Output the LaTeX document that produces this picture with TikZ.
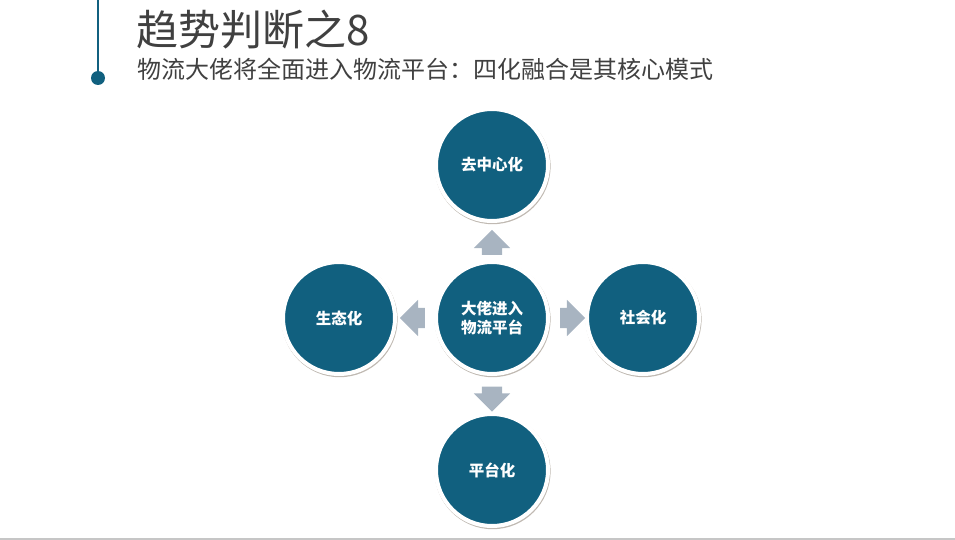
\documentclass[tikz,border=0pt]{standalone}
\usepackage{fontspec}
\setmainfont{Noto Sans CJK SC}
\usepackage{xcolor}
\usetikzlibrary{calc,positioning,shapes.arrows,shadows}

\definecolor{hubblue}{RGB}{17,96,127}
\definecolor{stepgray}{RGB}{168,180,193}
\definecolor{titlegray}{RGB}{64,64,64}

\begin{document}
\begin{tikzpicture}[
  x=1pt,y=-1pt,
  font=\bfseries,
  trend/.style={circle,fill=hubblue,draw=white,line width=4pt,minimum size=112pt,
    inner sep=0pt,align=center,text=white,font=\fontsize{15.5}{18.5}\selectfont\bfseries,
    drop shadow={shadow xshift=0.6pt,shadow yshift=-1.2pt,shadow scale=1.035,
      fill=gray!80!brown,opacity=0.55}},
  push/.style={single arrow,fill=stepgray,draw=none,minimum height=25pt,
    inner xsep=0pt,inner ysep=10pt,single arrow head extend=8pt}
]
\useasboundingbox (0,0) rectangle (955,540);

% header
\draw[hubblue,line width=2.5pt] (98,0) -- (98,78);
\fill[hubblue] (98,78) circle (7);
\node[anchor=base west,inner sep=0pt,text=titlegray,font=\fontsize{42}{44}\selectfont]
  (title) at (136,46) {趋势判断之8};
\node[anchor=base west,inner sep=0pt,text=titlegray,font=\fontsize{24}{26}\selectfont]
  (subtitle) at (137,79) {物流大佬将全面进入物流平台：四化融合是其核心模式};

% circles
\node[trend] (hub)    at (492,318) {大佬进入\\物流平台};
\node[trend] (center) at (492,165) {去中心化};
\node[trend] (eco)    at (339,318) {生态化};
\node[trend] (social) at (643,318) {社会化};
\node[trend] (plat)   at (492,470) {平台化};

% block arrows
\node[push,rotate=90]  (toup)    at ($(hub)!0.5!(center)+(0,6)$) {};
\node[push,rotate=180] (toleft)  at ($(hub)!0.5!(eco)+(2,0)$) {};
\node[push]            (toright) at ($(hub)!0.5!(social)$) {};
\node[push,rotate=-90] (todown)  at ($(hub)!0.5!(plat)$) {};

% footer rule
\draw[gray!45,line width=1.5pt] (0,539) -- (955,539);
\end{tikzpicture}
\end{document}
